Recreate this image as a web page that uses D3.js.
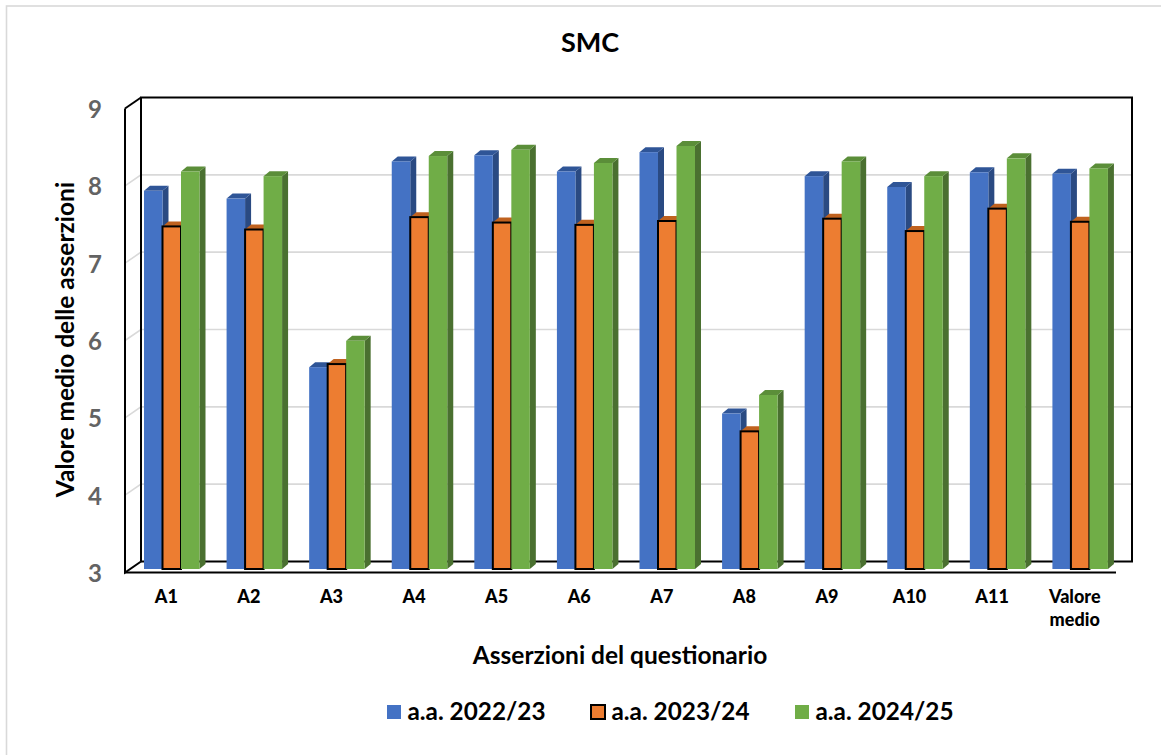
<!DOCTYPE html>
<html>
<head>
<meta charset="utf-8">
<script src="https://d3js.org/d3.v7.min.js"></script>
<style>
  html, body { margin: 0; padding: 0; background: #fff; }
  svg { display: block; font-family: Lato, "Open Sans", sans-serif; }
</style>
</head>
<body>
<div id="chart"></div>
<script>
// SMC questionnaire: 3-d style clustered columns
const categories = ['A1', 'A2', 'A3', 'A4', 'A5', 'A6', 'A7', 'A8', 'A9', 'A10', 'A11', 'Valore medio'];
const seriesNames = ['a.a. 2022/23', 'a.a. 2023/24', 'a.a. 2024/25'];
const values2022 = [7.89, 7.79, 5.61, 8.27, 8.35, 8.14, 8.39, 5.01, 8.08, 7.94, 8.13, 8.11];
const values2023 = [7.43, 7.39, 5.65, 7.55, 7.48, 7.45, 7.50, 4.78, 7.53, 7.37, 7.66, 7.49];
const values2024 = [8.14, 8.08, 5.95, 8.34, 8.42, 8.25, 8.47, 5.25, 8.27, 8.08, 8.31, 8.18];
const yTicks = [3, 4, 5, 6, 7, 8, 9];

const width = 1161, height = 755;
const depthX = 16, depthY = 11;     // floor/wall offset
const barDx = 6, barDy = 5;         // bar side depth

const colors = [
  { front: '#4472c4', side: '#2a4a82', top: '#2f5597' },
  { front: '#ed7d31', side: '#ae5a21', top: '#c0621f' },
  { front: '#70ad47', side: '#4a7030', top: '#5b8e39' }
];

const svg = d3.select('#chart').append('svg')
  .attr('width', width)
  .attr('height', height);

// outer frame, runs off the right and bottom of the picture
svg.append('rect')
  .attr('x', 6.5).attr('y', 6)
  .attr('width', width).attr('height', height)
  .attr('fill', '#fff')
  .attr('stroke', '#d9d9d9')
  .attr('stroke-width', 1.6);

const x0 = d3.scaleBand().domain(categories).range([125, 1116]);
const y = d3.scaleLinear().domain([3, 9]).range([572.5, 108.5]);
const xInner = d3.scaleBand().domain(d3.range(3)).range([19, 74.5]);

// back wall gridlines and side wall gridlines
const grid = svg.append('g');
yTicks.slice(1, -1).forEach(t => {
  grid.append('path')
    .attr('d', d3.line()([
      [x0.range()[0], y(t)],
      [x0.range()[0] + depthX, y(t) - depthY],
      [x0.range()[1] + depthX, y(t) - depthY]
    ]))
    .attr('fill', 'none')
    .attr('stroke', '#d9d9d9')
    .attr('stroke-width', 1.6);
});

// wall frame
const frame = svg.append('g').attr('fill', 'none').attr('stroke', '#000').attr('stroke-width', 2);
const left = x0.range()[0], right = x0.range()[1];
frame.append('path').attr('d', d3.line()([
  [left + depthX, y(3) - depthY],
  [left + depthX, y(9) - depthY],
  [right + depthX, y(9) - depthY],
  [right + depthX, y(3) - depthY],
  [left + depthX, y(3) - depthY]
]));
frame.append('path').attr('d', d3.line()([
  [left, y(9)],
  [left, y(3)],
  [left + depthX, y(3) - depthY]
]));
frame.append('path').attr('d', d3.line()([
  [left, y(9)],
  [left + depthX, y(9) - depthY]
]));

// bars
const barY = v => y(v) - 3.5;
const allValues = [values2022, values2023, values2024];
categories.forEach((cat, i) => {
  const g = svg.append('g').attr('transform', 'translate(' + x0(cat) + ',0)');
  // drawn left to right so each bar covers its neighbour's side face
  allValues.forEach((vals, s) => {
    const v = vals[i];
    const bx = xInner(s), bw = xInner.bandwidth();
    const c = colors[s];
    const top = barY(v), bottom = barY(3);
    g.append('polygon')
      .attr('points', [[bx + bw, top], [bx + bw + barDx, top - barDy], [bx + bw + barDx, bottom - barDy], [bx + bw, bottom]].join(' '))
      .attr('fill', c.side);
    g.append('polygon')
      .attr('points', [[bx, top], [bx + barDx, top - barDy], [bx + bw + barDx, top - barDy], [bx + bw, top]].join(' '))
      .attr('fill', c.top);
    g.append('rect')
      .attr('x', bx).attr('y', top)
      .attr('width', bw).attr('height', bottom - top)
      .attr('fill', c.front)
      .attr('stroke', s === 1 ? '#000' : 'none')
      .attr('stroke-width', s === 1 ? 2 : 0);
  });
});

// front floor line
svg.append('line')
  .attr('x1', left).attr('x2', right)
  .attr('y1', y(3)).attr('y2', y(3))
  .attr('stroke', '#000').attr('stroke-width', 2);

// y tick labels
svg.append('g').selectAll('text')
  .data(yTicks)
  .join('text')
  .attr('x', 102)
  .attr('y', d => y(d))
  .attr('dominant-baseline', 'central')
  .attr('text-anchor', 'end')
  .attr('font-size', 24)
  .attr('font-weight', 700)
  .attr('fill', '#636363')
  .text(d => d);

// category labels, "Valore medio" wraps on two lines
svg.append('g').selectAll('text')
  .data(categories)
  .join('text')
  .attr('text-anchor', 'middle')
  .attr('font-size', 18)
  .attr('font-weight', 900)
  .attr('fill', '#000')
  .each(function(d) {
    const words = d.split(' ');
    const cx = x0(d) + x0.bandwidth() / 2;
    d3.select(this).selectAll('tspan')
      .data(words)
      .join('tspan')
      .attr('x', cx)
      .attr('y', (w, i) => 603 + i * 23)
      .text(w => w);
  });

// titles
svg.append('text')
  .attr('x', 590).attr('y', 52)
  .attr('text-anchor', 'middle')
  .attr('font-size', 27).attr('font-weight', 700)
  .text('SMC');

svg.append('text')
  .attr('x', 620).attr('y', 664)
  .attr('text-anchor', 'middle')
  .attr('font-size', 24.5).attr('font-weight', 700)
  .text('Asserzioni del questionario');

svg.append('text')
  .attr('transform', 'translate(74,339.5) rotate(-90)')
  .attr('text-anchor', 'middle')
  .attr('font-size', 24.5).attr('font-weight', 700)
  .text('Valore medio delle asserzioni');

// legend
const legendX = [387, 591, 795];
const legend = svg.append('g').selectAll('g')
  .data(seriesNames)
  .join('g')
  .attr('transform', (d, i) => 'translate(' + legendX[i] + ',705)');
legend.append('rect')
  .attr('width', 14).attr('height', 14)
  .attr('fill', (d, i) => colors[i].front)
  .attr('stroke', (d, i) => i === 1 ? '#000' : 'none')
  .attr('stroke-width', 2);
legend.append('text')
  .attr('x', 20.5).attr('y', 15)
  .attr('font-size', 24.3).attr('font-weight', 700)
  .text(d => d);
</script>
</body>
</html>
